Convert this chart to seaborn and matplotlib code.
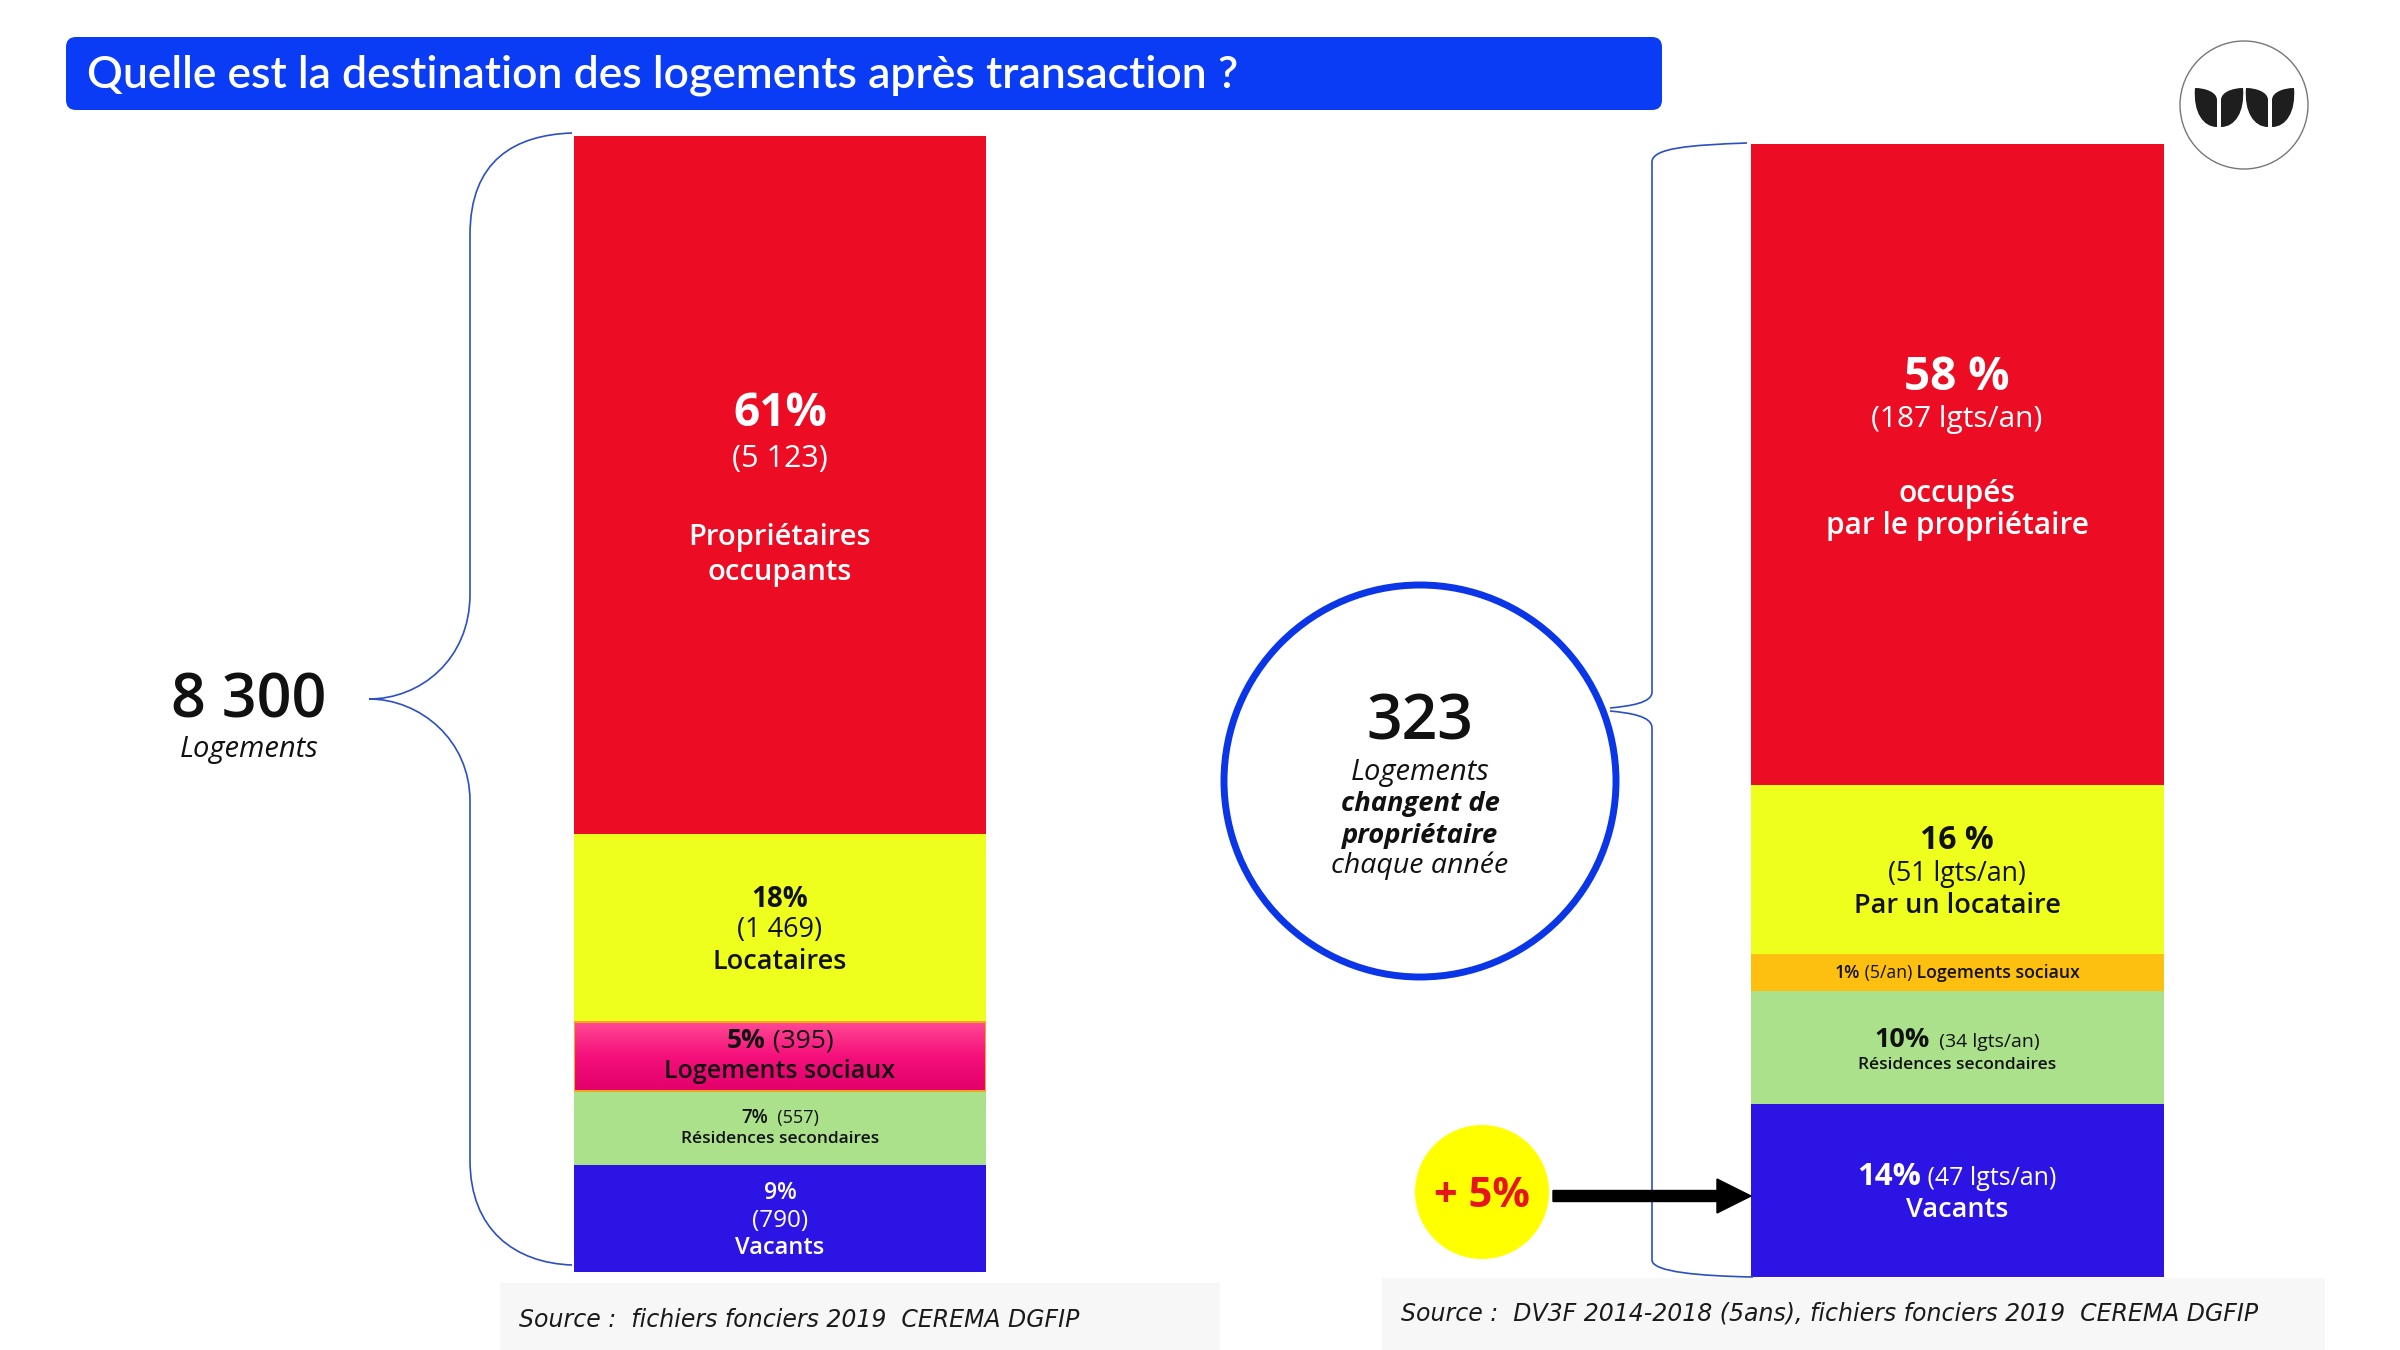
import numpy as np
import pandas as pd
import matplotlib.pyplot as plt
import seaborn as sns
from matplotlib.colors import LinearSegmentedColormap
from matplotlib.patches import Circle, FancyArrow, FancyBboxPatch, PathPatch, Rectangle
from matplotlib.path import Path

sns.set_theme(style='white')
plt.rcParams['font.family'] = ['Open Sans', 'DejaVu Sans']

W, H = 2400, 1350

# --- données ---
title = 'Quelle est la destination des logements après transaction ?'

left_segments = ['Propriétaires occupants', 'Locataires', 'Logements sociaux',
                 'Résidences secondaires', 'Vacants']
left_pct = [61, 18, 5, 7, 9]
left_counts = ['5 123', '1 469', '395', '557', '790']
left_share = [61.4, 16.5, 6.1, 6.5, 9.4]
left_colors = ['#EC0C23', '#EEFF1E', '#F2157A', '#ACE18C', '#2B14E4']
left_total = '8 300'

right_segments = ['occupés par le propriétaire', 'Par un locataire', 'Logements sociaux',
                  'Résidences secondaires', 'Vacants']
right_pct = [58, 16, 1, 10, 14]
right_per_year = [187, 51, 5, 34, 47]
right_share = [56.6, 15.0, 3.2, 10.0, 15.3]
right_colors = ['#EC0C23', '#EEFF1E', '#FDC011', '#ACE18C', '#2B14E4']
right_total = 323
vacants_gain = 5

sources = ['Source :  fichiers fonciers 2019  CEREMA DGFIP',
           'Source :  DV3F 2014-2018 (5ans), fichiers fonciers 2019  CEREMA DGFIP']

fig = plt.figure(figsize=(24, 13.5), dpi=100)
fig.patch.set_facecolor('white')


def stacked_bar(box, shares, colors):
    x0, y0, x1, y1 = box
    ax = fig.add_axes([x0 / W, 1 - y1 / H, (x1 - x0) / W, (y1 - y0) / H])
    tops = np.cumsum(shares[::-1])[::-1]  # haut de chaque bloc, le premier = haut de la barre
    for top, color in zip(tops, colors):
        sns.barplot(x=['bar'], y=[top], color=color, width=1, saturation=1,
                    errorbar=None, linewidth=0, ax=ax)
    return ax, tops


def finish(ax, tops):
    ax.set_xlim(-0.5, 0.5)
    ax.set_ylim(0, tops[0])
    ax.axis('off')


axl, tl = stacked_bar((574, 136, 986, 1272), left_share, left_colors)
# dégradé du bloc logements sociaux
pink = LinearSegmentedColormap.from_list('pink', ['#E2006A', '#F5107B', '#FF4A94'])
axl.imshow(np.linspace(0, 1, 64)[:, None], extent=(-0.5, 0.5, tl[3], tl[2]),
           origin='lower', cmap=pink, aspect='auto', zorder=3)
axl.add_patch(Rectangle((-0.5, tl[3]), 1, tl[2] - tl[3], fill=False,
                        edgecolor='#F5A524', lw=1.5, zorder=4))
finish(axl, tl)

axr, tr = stacked_bar((1751, 144, 2164, 1277), right_share, right_colors)
finish(axr, tr)

# calque pour tout le reste, en pixels
ov = fig.add_axes([0, 0, 1, 1])
ov.set_xlim(0, W)
ov.set_ylim(H, 0)
ov.axis('off')
renderer = fig.canvas.get_renderer()


def line(x, y, s, size, weight='normal', color='#111111', style='normal', **kw):
    return ov.text(x, y, s, fontsize=size, fontweight=weight, color=color, style=style,
                   ha='center', va='baseline', **kw)


def mixed(xc, y, parts, color='#111111'):
    texts = [ov.text(0, y, s, fontsize=sz, fontweight=wt, color=color,
                     ha='left', va='baseline') for s, sz, wt in parts]
    widths = [t.get_window_extent(renderer).width for t in texts]
    x = xc - sum(widths) / 2
    for t, w in zip(texts, widths):
        t.set_x(x)
        x += w


# titre
ov.add_patch(FancyBboxPatch((76, 47), 1576, 53, boxstyle='round,pad=10,rounding_size=10',
                            facecolor='#0A3CF5', edgecolor='none'))
ov.text(87, 88, title, fontsize=32, fontweight='semibold', color='white', va='baseline',
        family=['Lato', 'DejaVu Sans'])

# logo
ov.add_patch(Circle((2244, 105), 64, facecolor='white', edgecolor='#777777', lw=1))
for dx in (0, 51):
    a = [(2195 + dx, 88), (2193 + dx, 112), (2203 + dx, 127), (2217 + dx, 127),
         (2217 + dx, 100), (2217 + dx, 92), (2205 + dx, 88), (2195 + dx, 88)]
    b = [(2243 + dx, 88), (2245 + dx, 112), (2235 + dx, 127), (2221 + dx, 127),
         (2221 + dx, 100), (2221 + dx, 92), (2233 + dx, 88), (2243 + dx, 88)]
    codes = [Path.MOVETO, Path.CURVE4, Path.CURVE4, Path.CURVE4,
             Path.LINETO, Path.CURVE4, Path.CURVE4, Path.CURVE4]
    for pts in (a, b):
        ov.add_patch(PathPatch(Path(pts, codes), facecolor='#1E1E1E', edgecolor='none'))

# accolade gauche
brace_col = '#2B4FC4'
C4 = Path.CURVE4
lb = [(572, 133), (515, 135), (470, 160), (470, 235), (470, 594),
      (470, 660), (420, 699), (369, 699),
      (420, 699), (470, 740), (470, 801), (470, 1160),
      (470, 1230), (515, 1263), (572, 1265)]
lc = [Path.MOVETO, C4, C4, C4, Path.LINETO, C4, C4, C4, C4, C4, C4, Path.LINETO, C4, C4, C4]
ov.add_patch(PathPatch(Path(lb, lc), fill=False, edgecolor=brace_col, lw=1.2))

# accolade droite (deux morceaux qui partent du cercle)
up = [(1747, 143), (1690, 145), (1652, 148), (1652, 162), (1652, 692),
      (1652, 703), (1630, 706), (1610, 708)]
dn = [(1610, 711), (1630, 713), (1652, 716), (1652, 728), (1652, 1260),
      (1652, 1272), (1700, 1276), (1753, 1277)]
rc = [Path.MOVETO, C4, C4, C4, Path.LINETO, C4, C4, C4]
for pts in (up, dn):
    ov.add_patch(PathPatch(Path(pts, rc), fill=False, edgecolor=brace_col, lw=1.2))

# total gauche
line(249, 717, left_total, 44, 'semibold')
line(249, 757, 'Logements', 21, style='italic')

# cercle 323
ov.add_patch(Circle((1420, 781), 196, facecolor='white', edgecolor='#0B36E8', lw=5))
line(1420, 740, str(right_total), 45, 'semibold')
line(1420, 780, 'Logements', 21, style='italic')
line(1420, 811, 'changent de', 19.7, 'bold', style='italic')
line(1420, 843, 'propriétaire', 19.7, 'bold', style='italic')
line(1420, 873, 'chaque année', 20.5, style='italic')

# +5% et flèche
ov.add_patch(Circle((1482, 1192), 67, facecolor='#FFFF00', edgecolor='none'))
line(1482, 1207, f'+ {vacants_gain}%', 30, 'bold', color='#E8141C')
ov.add_patch(FancyArrow(1553, 1196, 198, 0, width=11, head_width=34, head_length=34,
                        length_includes_head=True, color='black'))

# étiquettes barre gauche
xl = 780
line(xl, 426, f'{left_pct[0]}%', 33, 'bold', 'white')
line(xl, 467, f'({left_counts[0]})', 22, color='white')
line(xl, 545, 'Propriétaires', 21, 'semibold', 'white')
line(xl, 580, 'occupants', 21, 'semibold', 'white')

line(xl, 907, f'{left_pct[1]}%', 20, 'bold')
line(xl, 937, f'({left_counts[1]})', 19.5)
line(xl, 969, left_segments[1], 19.5, 'semibold')

mixed(xl, 1048, [(f'{left_pct[2]}%', 19, 'bold'), (f' ({left_counts[2]})', 19, 'normal')])
line(xl, 1078, left_segments[2], 18, 'semibold')

mixed(xl, 1123, [(f'{left_pct[3]}%', 13.5, 'semibold'), (f'  ({left_counts[3]})', 13, 'normal')])
line(xl, 1143, left_segments[3], 12.5, 'semibold')

line(xl, 1199, f'{left_pct[4]}%', 16.5, 'semibold', 'white')
line(xl, 1227, f'({left_counts[4]})', 17.5, color='white')
line(xl, 1254, left_segments[4], 17, 'semibold', 'white')

# étiquettes barre droite
xr = 1957
line(xr, 390, f'{right_pct[0]} %', 33, 'bold', 'white')
line(xr, 427, f'({right_per_year[0]} lgts/an)', 21.5, color='white')
line(xr, 502, 'occupés', 21.5, 'semibold', 'white')
line(xr, 534, 'par le propriétaire', 21.5, 'semibold', 'white')

line(xr, 849, f'{right_pct[1]} %', 23, 'bold')
line(xr, 881, f'({right_per_year[1]} lgts/an)', 19.3)
line(xr, 913, right_segments[1], 19.5, 'semibold')

mixed(xr, 978, [(f'{right_pct[2]}%', 12.7, 'semibold'), (f' ({right_per_year[2]}/an)', 12.7, 'normal'),
                (f' {right_segments[2]}', 12.7, 'semibold')])

mixed(xr, 1047, [(f'{right_pct[3]}%', 19.5, 'bold'), (f'  ({right_per_year[3]} lgts/an)', 14, 'normal')])
line(xr, 1069, right_segments[3], 12.5, 'semibold')

mixed(xr, 1185, [(f'{right_pct[4]}%', 22.5, 'bold'), (f' ({right_per_year[4]} lgts/an)', 18, 'normal')],
      color='white')
line(xr, 1217, right_segments[4], 19.5, 'semibold', 'white')

# sources
ov.add_patch(Rectangle((500, 1283), 720, 67, facecolor='#F7F7F7', edgecolor='none'))
ov.add_patch(Rectangle((1382, 1278), 943, 72, facecolor='#F7F7F7', edgecolor='none'))
ov.text(519, 1327, sources[0], fontsize=17, style='italic', color='#1A1A1A',
        family=['DejaVu Sans'], va='baseline')
ov.text(1401, 1320, sources[1], fontsize=17, style='italic', color='#1A1A1A',
        family=['DejaVu Sans'], va='baseline')

fig.savefig('out.png', dpi=100, facecolor='white')
